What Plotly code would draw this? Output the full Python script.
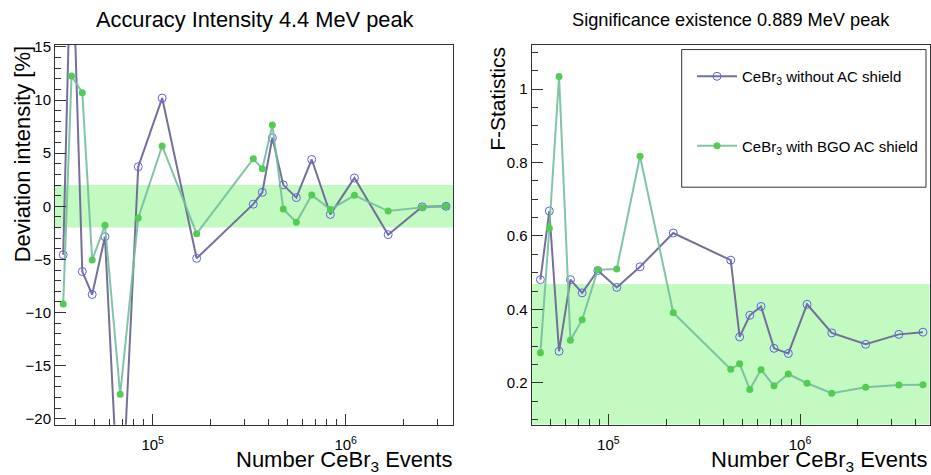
import plotly.graph_objects as go

# ---- Left panel: accuracy of the 4.4 MeV peak intensity ----
events_left = [3.44e4, 3.80e4, 4.32e4, 4.86e4, 5.66e4, 6.79e4, 8.42e4, 1.12e5, 1.69e5,
               3.32e5, 3.70e5, 4.17e5, 4.75e5, 5.55e5, 6.67e5, 8.33e5, 1.11e6, 1.66e6,
               2.49e6, 3.31e6]
dev_no_shield = [-4.56, 27.0, -6.14, -8.3, -2.86, -31.6, 3.73, 10.19, -4.9,
                 0.2, 1.32, 6.45, 2.02, 0.82, 4.41, -0.76, 2.67, -2.67, -0.05, 0.0]
dev_bgo_shield = [-9.2, 12.26, 10.7, -5.06, -1.78, -17.7, -1.1, 5.68, -2.58,
                  4.47, 3.54, 7.65, -0.26, -1.5, 1.07, -0.3, 1.04, -0.45, -0.1, 0.0]
dev_band = [-2.0, 2.0]

# ---- Right panel: significance of the 0.889 MeV peak ----
events_right = [4.42e4, 4.92e4, 5.53e4, 6.34e4, 7.30e4, 8.81e4, 1.106e5, 1.463e5, 2.18e5,
                4.35e5, 4.84e5, 5.47e5, 6.26e5, 7.32e5, 8.69e5, 1.088e6, 1.464e6, 2.20e6,
                3.28e6, 4.38e6]
fstat_no_shield = [0.481, 0.668, 0.286, 0.481, 0.445, 0.506, 0.460, 0.516, 0.608,
                   0.534, 0.325, 0.384, 0.408, 0.294, 0.280, 0.414, 0.336, 0.305, 0.332, 0.338]
fstat_bgo_shield = [0.282, 0.621, 1.034, 0.316, 0.372, 0.508, 0.510, 0.817, 0.391,
                    0.237, 0.252, 0.182, 0.236, 0.192, 0.224, 0.199, 0.172, 0.188, 0.194, 0.195]
fstat_band = [0.0, 0.469]

series_names = ["CeBr<sub>3</sub> without AC shield", "CeBr<sub>3</sub> with BGO AC shield"]
major_ticks = [1e5, 1e6]
major_text = ["10<sup>5</sup>", "10<sup>6</sup>"]
minor_ticks = [m * 10 ** e for e in (4, 5, 6) for m in range(2, 10)]

FONT = "Liberation Sans, Arial, sans-serif"
LINE_NO = "rgba(110,104,148,0.95)"
MARK_NO = "rgb(96,96,236)"
LINE_BGO = "rgba(116,190,156,0.9)"
MARK_BGO = "rgb(84,204,84)"
BAND = "rgb(194,250,194)"

W, H = 931, 475
def px(x):
    return x / W
def py(y):
    return 1 - y / H

fig = go.Figure()

def add_pair(x, y_no, y_bgo, xa, ya, legend):
    fig.add_trace(go.Scatter(
        x=x, y=y_no, xaxis=xa, yaxis=ya, mode="lines+markers", name=series_names[0],
        line=dict(color=LINE_NO, width=2),
        marker=dict(symbol="circle-open", size=8, color=MARK_NO, line=dict(width=1)),
        showlegend=legend, legendgroup="a", cliponaxis=True))
    fig.add_trace(go.Scatter(
        x=x, y=y_bgo, xaxis=xa, yaxis=ya, mode="lines+markers", name=series_names[1],
        line=dict(color=LINE_BGO, width=2),
        marker=dict(symbol="circle", size=7, color=MARK_BGO),
        showlegend=legend, legendgroup="b", cliponaxis=True))

add_pair(events_left, dev_no_shield, dev_bgo_shield, "x", "y", False)
add_pair(events_right, fstat_no_shield, fstat_bgo_shield, "x2", "y2", True)

# tolerance bands
fig.add_shape(type="rect", xref="x domain", yref="y", x0=0, x1=1,
              y0=dev_band[0], y1=dev_band[1], fillcolor=BAND, line_width=0, layer="below")
fig.add_shape(type="rect", xref="x2 domain", yref="y2", x0=0, x1=1,
              y0=0.0857, y1=fstat_band[1], fillcolor=BAND, line_width=0, layer="below")

# legend frame
fig.add_shape(type="rect", xref="paper", yref="paper",
              x0=px(681.7), x1=px(926), y0=py(184.3), y1=py(44.3),
              line=dict(color="#333", width=1), fillcolor="rgba(0,0,0,0)")

axis_common = dict(showline=True, linecolor="#333", linewidth=1, mirror=True,
                   ticks="inside", tickcolor="#333", showgrid=False, zeroline=False,
                   tickfont=dict(family=FONT, size=15, color="black"))

xcommon = dict(axis_common, type="log", tickvals=major_ticks, ticktext=major_text, ticklen=11,
               ticklabelstandoff=6,
               minor=dict(tickvals=minor_ticks, ticks="inside", ticklen=6, tickcolor="#333"))

fig.update_layout(
    width=W, height=H, margin=dict(l=0, r=0, t=0, b=0),
    paper_bgcolor="white", plot_bgcolor="white",
    font=dict(family=FONT, color="black"),
    xaxis=dict(xcommon, domain=[px(55), px(453)], range=[4.494, 6.556], anchor="y"),
    yaxis=dict(axis_common, domain=[py(426), py(39.3)], range=[-20.57, 15.22],
               tick0=0, dtick=5, ticklen=11, anchor="x",
               minor=dict(dtick=1, ticks="inside", ticklen=6, tickcolor="#333")),
    xaxis2=dict(xcommon, domain=[px(531.7), px(929.5)], range=[4.600, 6.6755], anchor="y2"),
    yaxis2=dict(axis_common, domain=[py(426), py(39.3)], range=[0.0857, 1.121],
                tick0=0, dtick=0.2, ticklen=11, anchor="x2",
                minor=dict(dtick=0.05, ticks="inside", ticklen=6, tickcolor="#333")),
    legend=dict(x=px(692), y=py(55), xanchor="left", yanchor="top",
                bgcolor="rgba(0,0,0,0)", borderwidth=0, tracegroupgap=47,
                itemwidth=40, font=dict(family=FONT, size=15, color="black")),
)

ann = []
ann.append(dict(text="Accuracy Intensity 4.4 MeV peak", x=px(255), y=py(14),
                font=dict(size=21.8)))
ann.append(dict(text="Significance existence 0.889 MeV peak", x=px(730.7), y=py(14),
                font=dict(size=18.2)))
ann.append(dict(text="Deviation intensity [%]", x=px(22), y=py(39), yanchor="top",
                textangle=-90, font=dict(size=22)))
ann.append(dict(text="F-Statistics", x=px(497.5), y=py(39), yanchor="top",
                textangle=-90, font=dict(size=21)))
ann.append(dict(text="Number CeBr<sub>3</sub> Events", x=px(454), y=py(463),
                xanchor="right", font=dict(size=22)))
ann.append(dict(text="Number CeBr<sub>3</sub> Events", x=px(929), y=py(463),
                xanchor="right", font=dict(size=22)))
for a in ann:
    a.setdefault("xanchor", "center")
    a.setdefault("yanchor", "middle")
    a.update(xref="paper", yref="paper", showarrow=False)
    a["font"] = dict(a["font"], family=FONT, color="black")
fig.update_layout(annotations=ann)

fig.write_html("out.html")
